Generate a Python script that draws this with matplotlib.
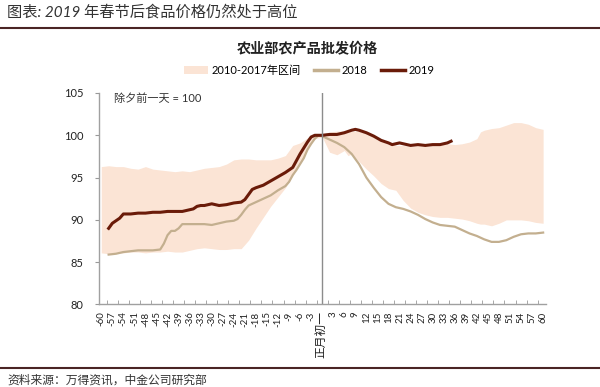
import numpy as np
import matplotlib
matplotlib.use('Agg')
import matplotlib.pyplot as plt
from matplotlib.patches import Patch
from matplotlib.lines import Line2D

plt.rcParams['font.family'] = ['Lato', 'Noto Sans CJK SC', 'DejaVu Sans']

# days relative to Spring Festival (0 = 正月初一), index: day before New Year's Eve = 100
x_band = [-60, -58, -56, -54, -52, -50, -48, -46, -44, -42, -40, -38, -36, -34, -32, -30,
          -28, -26, -24, -22, -20, -18, -16, -14, -12, -10, -8, -6, -4, -2, 0, 2, 4, 6, 7,
          8, 10, 12, 14, 16, 18, 20, 22, 24, 26, 28, 30, 32, 34, 36, 38, 40, 42, 43, 44,
          46, 48, 50, 52, 54, 56, 58, 60]
band_upper = [96.3, 96.4, 96.3, 96.3, 96.1, 96.0, 96.3, 96.0, 95.9, 95.8, 95.7, 95.8, 95.7,
              95.9, 96.1, 96.2, 96.3, 96.6, 97.1, 97.2, 97.2, 97.1, 97.1, 97.1, 97.3, 97.6,
              98.8, 99.1, 99.7, 100.0, 100.1, 100.4, 100.5, 100.5, 100.4, 100.5, 100.5,
              100.2, 99.8, 99.3, 99.0, 98.8, 98.8, 98.7, 98.8, 98.7, 98.8, 98.9, 99.0, 98.9,
              99.0, 99.2, 99.6, 100.4, 100.6, 100.8, 100.9, 101.2, 101.5, 101.5, 101.3,
              100.9, 100.7]
band_lower = [86.1, 86.0, 86.1, 86.1, 86.2, 86.2, 86.1, 86.2, 86.2, 86.3, 86.2, 86.2, 86.4,
              86.6, 86.7, 86.6, 86.5, 86.5, 86.6, 86.6, 87.6, 89.0, 90.3, 91.6, 92.7, 93.8,
              95.2, 96.8, 98.4, 99.6, 99.8, 98.0, 97.7, 98.2, 97.6, 97.8, 96.9, 96.0, 95.2,
              94.3, 93.7, 93.5, 92.3, 91.4, 90.9, 90.6, 90.4, 90.3, 90.3, 90.2, 90.1, 89.9,
              89.6, 89.5, 89.5, 89.3, 89.6, 90.0, 90.0, 90.0, 89.9, 89.7, 89.6]

x_2018 = [-58, -56, -54, -52, -50, -48, -46, -44, -43, -42, -41, -40, -39, -38, -36, -34,
          -32, -30, -28, -26, -24, -23, -22, -21, -20, -18, -16, -14, -12, -10, -9, -8, -7,
          -6, -5, -4, -3, -2, -1, 0, 2, 4, 6, 8, 10, 12, 14, 16, 18, 20, 22, 24, 26, 28, 30,
          32, 34, 36, 38, 40, 42, 44, 46, 48, 50, 52, 54, 56, 58, 60]
y_2018 = [85.9, 86.0, 86.2, 86.3, 86.4, 86.4, 86.4, 86.5, 87.2, 88.2, 88.7, 88.7, 89.0,
          89.5, 89.5, 89.5, 89.5, 89.4, 89.6, 89.8, 89.9, 90.1, 90.6, 91.2, 91.7, 92.1,
          92.5, 92.9, 93.5, 94.0, 94.5, 95.3, 95.9, 96.6, 97.3, 98.3, 99.0, 99.6, 100.0,
          99.9, 99.5, 99.1, 98.6, 97.8, 96.6, 95.0, 93.8, 92.7, 91.9, 91.5, 91.3, 91.0,
          90.6, 90.1, 89.7, 89.4, 89.3, 89.2, 88.8, 88.4, 88.1, 87.7, 87.4, 87.4, 87.6,
          88.0, 88.3, 88.4, 88.4, 88.5]

x_2019 = [-58, -57, -56, -55, -54, -52, -50, -48, -46, -44, -42, -40, -38, -36, -35, -34,
          -33, -32, -30, -28, -26, -24, -22, -21, -20, -19, -18, -16, -14, -12, -10, -8,
          -7, -6, -5, -4, -3, -2, 0, 2, 4, 6, 8, 9, 10, 12, 14, 16, 18, 19, 20, 21, 22, 24,
          26, 28, 30, 32, 34, 35]
y_2019 = [89.0, 89.6, 89.9, 90.2, 90.7, 90.7, 90.8, 90.8, 90.9, 90.9, 91.0, 91.0, 91.0,
          91.2, 91.3, 91.6, 91.7, 91.7, 91.9, 91.7, 91.8, 92.0, 92.1, 92.4, 93.0, 93.6,
          93.8, 94.1, 94.6, 95.1, 95.6, 96.2, 97.0, 97.8, 98.5, 99.2, 99.8, 100.0, 100.0,
          100.1, 100.1, 100.3, 100.6, 100.7, 100.6, 100.3, 99.9, 99.4, 99.1, 98.9, 99.0,
          99.1, 99.0, 98.8, 98.9, 98.8, 98.9, 98.9, 99.1, 99.3]

tick_pos = list(range(-60, 61, 3))
tick_labels = [('正月初一' if t == 0 else str(t)) for t in tick_pos]

band_color = '#FBE4D5'
c2018 = '#C3AF8F'
c2019 = '#6A1B09'

fig = plt.figure(figsize=(6, 3.87), dpi=100)

# header / footer
fig.text(0.012, 0.968, '图表: 2019 年春节后食品价格仍然处于高位', fontsize=11,
         color='#333333', ha='left', va='center', style='italic')
fig.add_artist(Line2D([0, 1], [0.927, 0.927], color='#4A2424', lw=1.5))
fig.add_artist(Line2D([0, 1], [0.049, 0.049], color='#4A2424', lw=1.5))
fig.text(0.012, 0.018, '资料来源：万得资讯，中金公司研究部', fontsize=8.5,
         color='#333333', ha='left', va='center', style='italic')

fig.text(0.513, 0.875, '农业部农产品批发价格', fontsize=10.2, fontweight='bold',
         color='#222222', ha='center', va='center')

ax = fig.add_axes([0.1645, 0.2132, 0.745, 0.5465])
ax.fill_between(x_band, band_lower, band_upper, color=band_color, lw=0,
                label='2010-2017年区间')
ax.plot(x_2018, y_2018, color=c2018, lw=1.6, label='2018')
ax.plot(x_2019, y_2019, color=c2019, lw=2.2, label='2019')
ax.axvline(0, color='#8C8C8C', lw=1.0)

ax.set_xlim(-60.7, 60.7)
ax.set_ylim(80, 105)
ax.set_yticks([80, 85, 90, 95, 100, 105])
ax.tick_params(axis='y', labelsize=8, length=3, color='#999999', labelcolor='#222222', pad=8)
ax.set_xticks(tick_pos)
ax.set_xticklabels(tick_labels, rotation=90, fontsize=7, color='#222222')
for lbl in ax.get_xticklabels():
    if lbl.get_text() == '正月初一':
        lbl.set_fontsize(8.5)
ax.tick_params(axis='x', length=0, pad=5)
ax.set_xticks([t + 1.5 for t in tick_pos[:-1]], minor=True)
ax.tick_params(axis='x', which='minor', direction='in', length=3, color='#999999')
for s in ['top', 'right']:
    ax.spines[s].set_visible(False)
for s in ['left', 'bottom']:
    ax.spines[s].set_color('#A0A0A0')
    ax.spines[s].set_linewidth(1.0)

ax.text(-56.5, 104.3, '除夕前一天 = 100', fontsize=8, color='#333333', ha='left', va='center')

handles = [Patch(facecolor=band_color, edgecolor='none'),
           Line2D([], [], color=c2018, lw=2.5),
           Line2D([], [], color=c2019, lw=2.5)]
fig.legend(handles, ['2010-2017年区间', '2018', '2019'], loc='center',
           bbox_to_anchor=(0.515, 0.818), ncol=3, frameon=False, fontsize=8,
           handlelength=2.2, handletextpad=0.3, columnspacing=1.2)

fig.savefig('out.png', dpi=100, facecolor='white')
